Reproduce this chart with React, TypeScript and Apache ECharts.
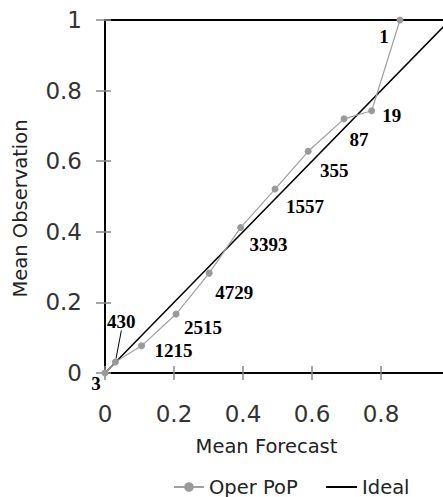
import React, { useEffect, useRef } from "react";
import * as echarts from "echarts";

const forecast = [0, 0.03, 0.106, 0.206, 0.302, 0.393, 0.493, 0.589, 0.693, 0.773, 0.855];
const observed = [0, 0.031, 0.077, 0.167, 0.283, 0.412, 0.521, 0.628, 0.72, 0.743, 1.0];
const counts = [3, 430, 1215, 2515, 4729, 3393, 1557, 355, 87, 19, 1];
const idealX = [0, 1];
const idealY = [0, 1];
const seriesNames = ["Oper PoP", "Ideal"];

// label offsets (style only)
const labelOffsets: [number, number][] = [
  [-9, 10], [6, -41], [32, 5], [27, 13], [25, 19], [28, 17],
  [30, 17], [26, 19], [15, 21], [20, 5], [-16, 16],
];

const SANS = "DejaVu Sans";

export default function App() {
  const ref = useRef<HTMLDivElement>(null);
  useEffect(() => {
    if (!ref.current) return;
    const chart = echarts.init(ref.current, undefined, { renderer: "svg" });
    const tickStyle = { color: "#888", width: 1.5 };
    const gridBox = {
      left: 105,
      top: 20,
      width: 345,
      height: 353,
      containLabel: false,
      outerBoundsMode: "none",
    };
    const legendText = { fontSize: 19.5, color: "#222", fontFamily: SANS };
    chart.setOption({
      animation: false,
      backgroundColor: "#fff",
      grid: [
        { ...gridBox, show: true, borderColor: "#000", borderWidth: 2 },
        { ...gridBox, show: false },
      ],
      legend: [
        {
          data: [seriesNames[0]],
          left: 168,
          top: 472,
          itemWidth: 30,
          itemHeight: 12,
          textStyle: legendText,
        },
        {
          data: [{ name: seriesNames[1], icon: "rect" }],
          left: 321,
          top: 472,
          itemWidth: 31,
          itemHeight: 2,
          textStyle: legendText,
        },
      ],
      xAxis: [
        {
          gridIndex: 0,
          type: "value",
          min: 0,
          max: 1,
          interval: 0.2,
          axisLine: { show: true, lineStyle: { color: "#000", width: 2 } },
          axisTick: { show: true, length: 7, lineStyle: tickStyle },
          axisLabel: { margin: 29, fontSize: 23, color: "#333", fontFamily: SANS },
          splitLine: { show: false },
          name: "Mean Forecast",
          nameLocation: "middle",
          nameGap: 63,
          nameTextStyle: { fontSize: 19.5, color: "#222", fontFamily: SANS, padding: [0, 22, 0, 0] },
        },
        {
          gridIndex: 1,
          type: "value",
          min: 0,
          max: 1,
          interval: 0.2,
          axisLine: { show: false },
          axisTick: { show: true, inside: true, length: 7, lineStyle: tickStyle },
          axisLabel: { show: false },
          splitLine: { show: false },
        },
      ],
      yAxis: [
        {
          gridIndex: 0,
          type: "value",
          min: 0,
          max: 1,
          interval: 0.2,
          axisLine: { show: true, lineStyle: { color: "#000", width: 2 } },
          axisTick: { show: true, length: 9, lineStyle: tickStyle },
          axisLabel: { margin: 23, fontSize: 23, color: "#333", fontFamily: SANS },
          splitLine: { show: false },
          name: "Mean Observation",
          nameLocation: "middle",
          nameGap: 75,
          nameTextStyle: { fontSize: 19.5, color: "#222", fontFamily: SANS, padding: [0, 24, 0, 0] },
        },
        {
          gridIndex: 1,
          type: "value",
          min: 0,
          max: 1,
          interval: 0.2,
          axisLine: { show: false },
          axisTick: { show: true, inside: true, length: 6, lineStyle: tickStyle },
          axisLabel: { show: false },
          splitLine: { show: false },
        },
      ],
      series: [
        {
          name: seriesNames[0],
          type: "line",
          xAxisIndex: 0,
          yAxisIndex: 0,
          symbol: "circle",
          symbolSize: 7,
          itemStyle: { color: "#9a9a9a" },
          lineStyle: { color: "#a0a0a0", width: 1.2 },
          data: forecast.map((x, i) => ({
            value: [x, observed[i]],
            ...(counts[i] === 430
              ? { labelLine: { show: true, length2: 0, lineStyle: { color: "#000", width: 1 } } }
              : {}),
          })),
          labelLayout: (p: any) => ({
            dx: labelOffsets[p.dataIndex][0],
            dy: labelOffsets[p.dataIndex][1],
          }),
          label: {
            show: true,
            position: "inside",
            formatter: (p: any) => String(counts[p.dataIndex]),
            fontFamily: "Liberation Serif",
            fontWeight: "bold",
            fontSize: 19,
            color: "#000",
          },
          z: 3,
        },
        {
          name: seriesNames[1],
          type: "line",
          xAxisIndex: 0,
          yAxisIndex: 0,
          symbol: "none",
          lineStyle: { color: "#000", width: 1.5 },
          itemStyle: { color: "#000" },
          data: idealX.map((x, i) => [x, idealY[i]]),
          z: 2,
        },
      ],
    });
    return () => chart.dispose();
  }, []);
  return (
    <div
      ref={ref}
      style={{ position: "absolute", left: 0, top: 0, width: 443, height: 497 }}
    />
  );
}
